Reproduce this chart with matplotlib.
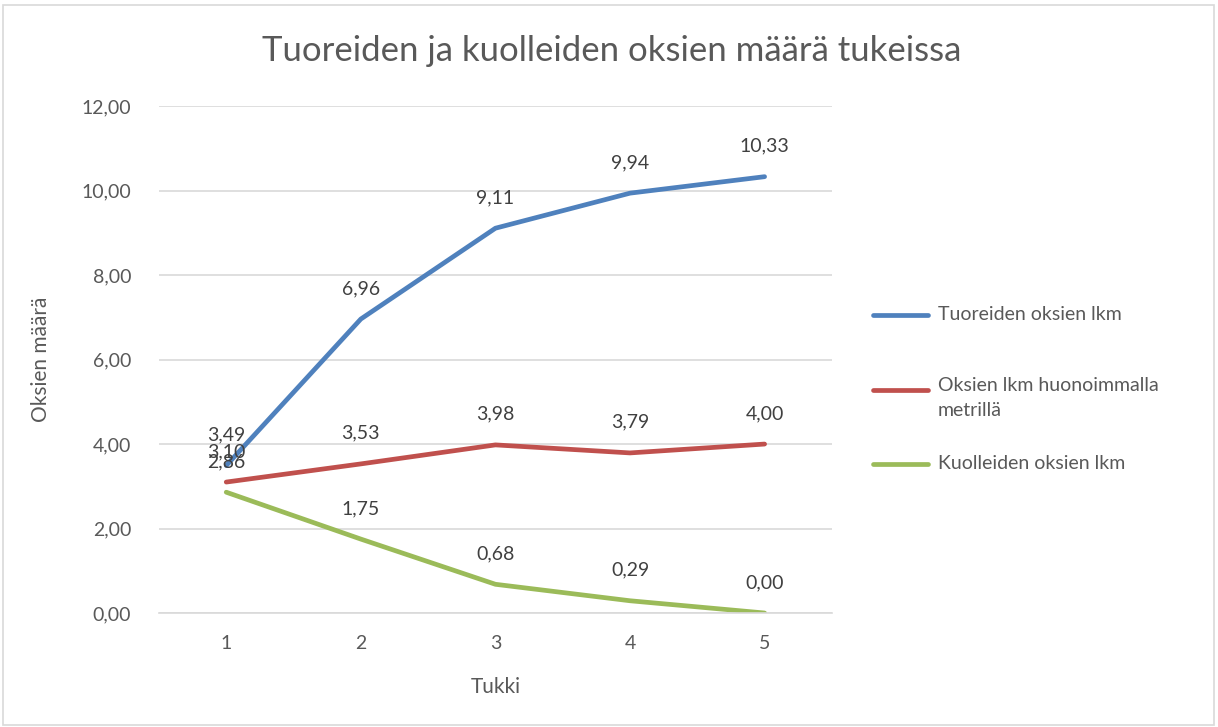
import matplotlib
matplotlib.use("Agg")
import matplotlib.pyplot as plt
from matplotlib.patches import Rectangle
from matplotlib.lines import Line2D

categories = ["1", "2", "3", "4", "5"]
tuoreet = [3.49, 6.96, 9.11, 9.94, 10.33]
huonoin = [3.10, 3.53, 3.98, 3.79, 4.00]
kuolleet = [2.86, 1.75, 0.68, 0.29, 0.00]
series_names = ["Tuoreiden oksien lkm", "Oksien lkm huonoimmalla\nmetrillä", "Kuolleiden oksien lkm"]
colors = ["#4F81BD", "#C0504D", "#9BBB59"]
yticks = [0, 2, 4, 6, 8, 10, 12]

plt.rcParams['font.family'] = ['Lato', 'DejaVu Sans']
text_color = "#595959"

fig = plt.figure(figsize=(12.18, 7.27), dpi=100)
ax = fig.add_axes([0.1305, 0.1568, 0.683 - 0.1305, 0.854 - 0.1568])

x = list(range(len(categories)))
for vals, c in zip([tuoreet, huonoin, kuolleet], colors):
    ax.plot(x, vals, color=c, lw=3.4, solid_capstyle='round')
    for xi, v in zip(x, vals):
        ax.annotate(f"{v:.2f}".replace(".", ","), (xi, v), xytext=(0, 22),
                    textcoords="offset points", ha="center", va="center",
                    fontsize=14, color="#404040")

ax.set_xlim(-0.5, len(categories) - 0.5)
ax.set_ylim(0, 12)
ax.set_yticks(yticks)
ax.set_yticklabels([f"{t:.2f}".replace(".", ",") for t in yticks])
ax.set_xticks(x)
ax.set_xticklabels(categories)
ax.tick_params(axis='both', length=0, labelsize=14, labelcolor=text_color)
ax.tick_params(axis='y', pad=20)
ax.tick_params(axis='x', pad=16)
ax.grid(axis='y', color="#D9D9D9", lw=1.2)
ax.set_axisbelow(True)
for s in ["top", "right", "left"]:
    ax.spines[s].set_visible(False)
ax.spines["bottom"].set_color("#D9D9D9")
ax.spines["bottom"].set_linewidth(1.2)

ax.set_xlabel("Tukki", fontsize=15, color=text_color, labelpad=18)
ax.set_ylabel("Oksien määrä", fontsize=15, color=text_color, labelpad=22)

fig.text(0.5025, 0.930, "Tuoreiden ja kuolleiden oksien määrä tukeissa",
         ha="center", va="center", fontsize=25, color=text_color)

# legend
leg_y = [315, 390, 464]
for (yy, name, c) in zip(leg_y, series_names, colors):
    fy = 1 - yy / 727
    fig.add_artist(Line2D([873 / 1218, 928 / 1218], [fy, fy], color=c, lw=3.4,
                          solid_capstyle='round', transform=fig.transFigure))
    if "\n" in name:
        fig.text(938 / 1218, fy + 13 / 727, name, ha="left", va="top",
                 fontsize=14, color=text_color, linespacing=1.55)
    else:
        fig.text(938 / 1218, fy, name, ha="left", va="center",
                 fontsize=14, color=text_color)

fig.add_artist(Rectangle((3 / 1218, 2 / 727), 1211 / 1218, 720 / 727, fill=False,
                         edgecolor="#D9D9D9", lw=1.2, transform=fig.transFigure))

fig.savefig("out.png", dpi=100)
